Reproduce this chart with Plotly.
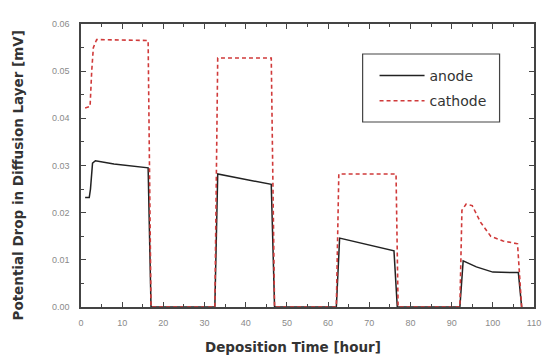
import plotly.graph_objects as go

anode_x = [1, 2, 2.3, 2.8, 3.5, 8, 16.3, 17, 32.5, 33.2, 46.2, 47, 62, 62.8, 76, 76.8, 92, 92.8, 96, 100, 106.2, 107]
anode_y = [0.0232, 0.0232, 0.025, 0.0305, 0.031, 0.0303, 0.0295, 0, 0, 0.0282, 0.026, 0, 0, 0.0146, 0.0119, 0, 0, 0.0098, 0.0085, 0.0074, 0.0073, 0]

cathode_x = [1, 2.2, 2.6, 3.0, 3.8, 16.3, 17, 32.5, 33.2, 46.2, 47, 62, 62.6, 76.5, 77, 92, 92.5, 93.5, 95, 97, 99.5, 102.5, 106, 107]
cathode_y = [0.0422, 0.0425, 0.05, 0.055, 0.0567, 0.0565, 0, 0, 0.0528, 0.0528, 0, 0, 0.0282, 0.0282, 0, 0, 0.0205, 0.0218, 0.0215, 0.018, 0.015, 0.014, 0.0134, 0]

x_ticks = [0, 10, 20, 30, 40, 50, 60, 70, 80, 90, 100, 110]
y_ticks = [0.00, 0.01, 0.02, 0.03, 0.04, 0.05, 0.06]

fig = go.Figure()
fig.add_trace(go.Scatter(x=anode_x, y=anode_y, mode="lines", name="anode", legendgroup="a",
                         line=dict(color="#222222", width=1.5)))
fig.add_trace(go.Scatter(x=cathode_x, y=cathode_y, mode="lines", name="cathode", legendgroup="c",
                         line=dict(color="#d03a3a", width=1.6, dash="4px,3px")))

axis_common = dict(showline=True, linecolor="#444444", linewidth=1.5, mirror="allticks",
                   ticks="inside", ticklen=5, tickwidth=1, tickcolor="#444444",
                   showgrid=False, zeroline=False,
                   tickfont=dict(family="Liberation Sans", size=9, color="#8a8a8a"))

fig.update_xaxes(range=[0, 110], tickvals=x_ticks, ticktext=[str(v) for v in x_ticks],
                 minor=dict(ticks="inside", ticklen=3, dtick=5, tickcolor="#444444"),
                 ticklabelstandoff=6, **axis_common)
fig.update_yaxes(range=[0, 0.06], tickvals=y_ticks, ticktext=["%.2f" % v for v in y_ticks],
                 minor=dict(ticks="inside", ticklen=3, dtick=0.005, tickcolor="#444444"),
                 ticklabelstandoff=8, **axis_common)

fig.add_shape(type="rect", xref="paper", yref="paper",
              x0=0.6217, x1=0.924, y0=0.6537, y1=0.894,
              line=dict(color="#444444", width=1.2), fillcolor="rgba(0,0,0,0)")

fig.update_layout(
    width=553, height=361,
    margin=dict(l=81, r=12, t=24, b=54),
    paper_bgcolor="white", plot_bgcolor="white",
    showlegend=True,
    legend=dict(x=0.648, y=0.873, xanchor="left", yanchor="top",
                borderwidth=0, bgcolor="rgba(0,0,0,0)", tracegroupgap=4,
                font=dict(family="DejaVu Sans", size=14, color="#333333"),
                itemwidth=45),
    annotations=[
        dict(text="<b>Deposition Time [hour]</b>", xref="paper", yref="paper",
             x=0.5, xshift=-15, y=0, yshift=-40, xanchor="center", yanchor="middle", showarrow=False,
             font=dict(family="DejaVu Sans", size=13.5, color="#333333")),
        dict(text="<b>Potential Drop in Diffusion Layer [mV]</b>", xref="paper", yref="paper",
             x=0, xshift=-64, y=0.5, yshift=-10, xanchor="center", yanchor="middle", textangle=-90,
             showarrow=False,
             font=dict(family="DejaVu Sans", size=13.5, color="#333333")),
    ],
)

fig.write_html("out.html")
